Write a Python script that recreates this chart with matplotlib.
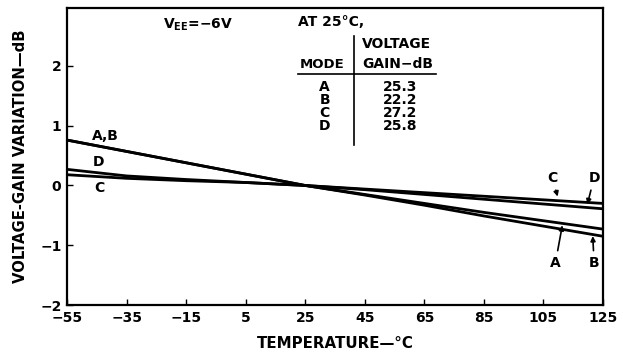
import matplotlib.pyplot as plt

# --- DATA ---
temps = [-55, -35, -15, 5, 25, 45, 65, 85, 105, 125]
mode_a = [0.76, 0.57, 0.38, 0.19, 0.0, -0.15, -0.30, -0.45, -0.59, -0.73]
mode_b = [0.76, 0.57, 0.38, 0.19, 0.0, -0.16, -0.33, -0.51, -0.68, -0.85]
mode_c = [0.18, 0.12, 0.08, 0.05, 0.0, -0.06, -0.12, -0.18, -0.24, -0.30]
mode_d = [0.27, 0.16, 0.10, 0.05, 0.0, -0.07, -0.15, -0.23, -0.31, -0.39]

modes = ["A", "B", "C", "D"]
gains = ["25.3", "22.2", "27.2", "25.8"]

x_ticks = [-55, -35, -15, 5, 25, 45, 65, 85, 105, 125]
y_ticks = [-2, -1, 0, 1, 2]

plt.rcParams['font.family'] = ['DejaVu Sans']
plt.rcParams['font.weight'] = 'bold'

fig = plt.figure(figsize=(6.24, 3.54), dpi=100)
ax = fig.add_axes([0.1074, 0.1384, 0.859, 0.839])

for series in (mode_a, mode_b, mode_c, mode_d):
    ax.plot(temps, series, color='black', linewidth=2)

ax.set_xlim(-55, 125)
ax.set_ylim(-2, 2.97)
ax.set_xticks(x_ticks)
ax.set_xticklabels([str(t).replace('-', '\u2212') for t in x_ticks])
ax.set_yticks(y_ticks)
ax.set_yticklabels([str(t).replace('-', '\u2212') for t in y_ticks])
ax.tick_params(direction='in', length=4, width=1, labelsize=10, pad=4)
for s in ax.spines.values():
    s.set_linewidth(1.6)

ax.set_xlabel('TEMPERATURE\u2014\u00b0C', fontsize=10.8, fontweight='bold', labelpad=8)
ax.set_ylabel('VOLTAGE-GAIN VARIATION\u2014dB', fontsize=10.7, fontweight='bold', labelpad=9)

# header texts
ax.text(-22.8, 2.69, r'V$_{\mathbf{EE}}$=$-$6V', fontsize=10, fontweight='bold', va='center')
ax.text(22.5, 2.74, 'AT 25\u00b0C,', fontsize=10, fontweight='bold', va='center')

# table
ax.text(23, 2.03, 'MODE', fontsize=9.5, fontweight='bold', va='center')
ax.text(44, 2.36, 'VOLTAGE', fontsize=10, fontweight='bold', va='center')
ax.text(44, 2.03, 'GAIN\u2212dB', fontsize=10, fontweight='bold', va='center')
ax.plot([22.5, 69], [1.86, 1.86], color='black', linewidth=1.2)
ax.plot([41.3, 41.3], [2.5, 0.67], color='black', linewidth=1.2)
for i, (m, g) in enumerate(zip(modes, gains)):
    y = 1.65 - i * 0.22
    ax.text(31.5, y, m, fontsize=10, fontweight='bold', ha='center', va='center')
    ax.text(57, y, g, fontsize=10, fontweight='bold', ha='center', va='center')

# curve labels
ax.text(-46.5, 0.82, 'A,B', fontsize=10, fontweight='bold', va='center')
ax.text(-44.5, 0.39, 'D', fontsize=10, fontweight='bold', va='center', ha='center')
ax.text(-44, -0.05, 'C', fontsize=10, fontweight='bold', va='center', ha='center')

arrow = dict(arrowstyle='-|>', color='black', linewidth=1.2, mutation_scale=7)
ax.annotate('C', xy=(110, -0.23), xytext=(108, 0.13), fontsize=10, fontweight='bold',
            ha='center', va='center', arrowprops=arrow)
ax.annotate('D', xy=(119.5, -0.36), xytext=(122, 0.13), fontsize=10, fontweight='bold',
            ha='center', va='center', arrowprops=arrow)
ax.annotate('A', xy=(111.5, -0.62), xytext=(109, -1.3), fontsize=10, fontweight='bold',
            ha='center', va='center', arrowprops=arrow)
ax.annotate('B', xy=(121.5, -0.80), xytext=(122, -1.3), fontsize=10, fontweight='bold',
            ha='center', va='center', arrowprops=arrow)

fig.savefig('out.png', dpi=100)
